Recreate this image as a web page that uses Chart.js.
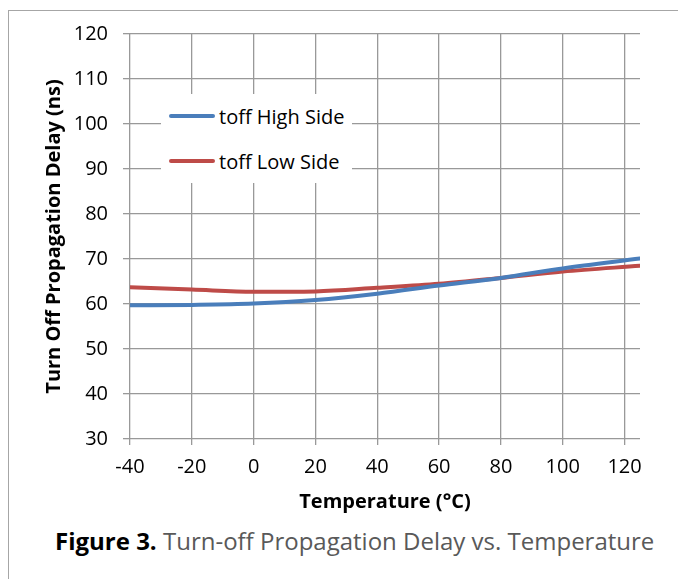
<!DOCTYPE html>
<html>
<head>
<meta charset="utf-8">
<script src="https://cdn.jsdelivr.net/npm/chart.js@4/dist/chart.umd.min.js"></script>
<style>
  body { margin: 0; background: #fff; font-family: "Open Sans", sans-serif; }
  .wrapper { position: relative; width: 678px; height: 579px; overflow: hidden; }
  .frame { position: absolute; left: 8px; top: 10px; width: 700px; height: 600px;
           border-left: 1.5px solid #a6a6a6; border-top: 1.5px solid #a6a6a6; }
  .chart-container { position: absolute; left: 0; top: 0; width: 678px; height: 520px; }
  .legend { position: absolute; left: 161px; top: 94px; width: 191px; height: 89px; background: #fff; }
  .legend-item { position: absolute; left: 8px; height: 24px; display: flex; align-items: center;
                 font-size: 20px; color: #000; white-space: nowrap; }
  .legend-item .swatch { width: 46px; height: 4px; border-radius: 2px; margin-right: 4px; }
  .caption { position: absolute; left: 55px; top: 524px; font-size: 24px; color: #595959; white-space: nowrap; }
  .caption b { color: #000; }
</style>
</head>
<body>
<div class="wrapper">
  <div class="frame"></div>
  <div class="chart-container"><canvas id="myChart" width="678" height="520"></canvas></div>
  <div class="legend" id="legend"></div>
  <div class="caption"><b>Figure 3.</b> Turn-off Propagation Delay vs. Temperature</div>
</div>
<script>
// temperature points (°C)
const temps = [-40, -20, 0, 20, 40, 60, 80, 100, 125];
// delay values (ns)
const highSide = [59.7, 59.8, 60.1, 60.9, 62.3, 64.1, 65.8, 67.9, 70.1];
const lowSide = [63.7, 63.2, 62.7, 62.8, 63.6, 64.5, 65.8, 67.2, 68.5];
const seriesNames = ['toff High Side', 'toff Low Side'];
const seriesColors = ['#4a7ebb', '#be4b48'];
const yTicks = [30, 40, 50, 60, 70, 80, 90, 100, 110, 120];
const xTicks = [-40, -20, 0, 20, 40, 60, 80, 100, 120];

const toPoints = (vals) => temps.map((t, i) => ({ x: t, y: vals[i] }));

const data = {
  datasets: [highSide, lowSide].map((vals, i) => ({
    label: seriesNames[i],
    data: toPoints(vals),
    borderColor: seriesColors[i],
    backgroundColor: seriesColors[i],
    borderWidth: 4,
    pointRadius: 0,
    cubicInterpolationMode: 'monotone',
    borderCapStyle: 'round'
  }))
};

const tickFont = { family: 'Open Sans', size: 20 };
const titleFont = { family: 'Open Sans', size: 20, weight: 'bold' };

const config = {
  type: 'line',
  data,
  options: {
    responsive: false,
    animation: false,
    layout: { padding: { left: 0, right: 38, top: 34, bottom: 0 } },
    plugins: { legend: { display: false }, tooltip: { enabled: false } },
    scales: {
      x: {
        type: 'linear',
        min: -40,
        max: 125,
        afterBuildTicks: (scale) => { scale.ticks = xTicks.map(v => ({ value: v })); },
        afterFit: (scale) => { scale.height = 81; },
        ticks: { font: tickFont, color: '#000', padding: 10, maxRotation: 0 },
        grid: { color: '#999', lineWidth: 1.3, tickLength: 6 },
        border: { display: false },
        title: { display: true, text: 'Temperature (°C)', font: titleFont, color: '#000', padding: { bottom: 6 } }
      },
      y: {
        min: 30,
        max: 120,
        afterBuildTicks: (scale) => { scale.ticks = yTicks.map(v => ({ value: v })); },
        afterFit: (scale) => { scale.width = 130; },
        ticks: { font: tickFont, color: '#000', padding: 15 },
        grid: { color: '#999', lineWidth: 1.3, tickLength: 7 },
        border: { display: false },
        title: { display: true, text: 'Turn Off Propagation Delay (ns)', font: titleFont, color: '#000', padding: { top: 42 } }
      }
    }
  }
};

const myChart = new Chart(document.getElementById('myChart'), config);

// html legend built from the datasets
const legend = document.getElementById('legend');
myChart.data.datasets.forEach((ds, i) => {
  const item = document.createElement('div');
  item.className = 'legend-item';
  item.style.top = (10 + i * 45) + 'px';
  item.innerHTML = `<span class="swatch" style="background:${ds.borderColor}"></span>${ds.label}`;
  legend.append(item);
});
</script>
</body>
</html>
